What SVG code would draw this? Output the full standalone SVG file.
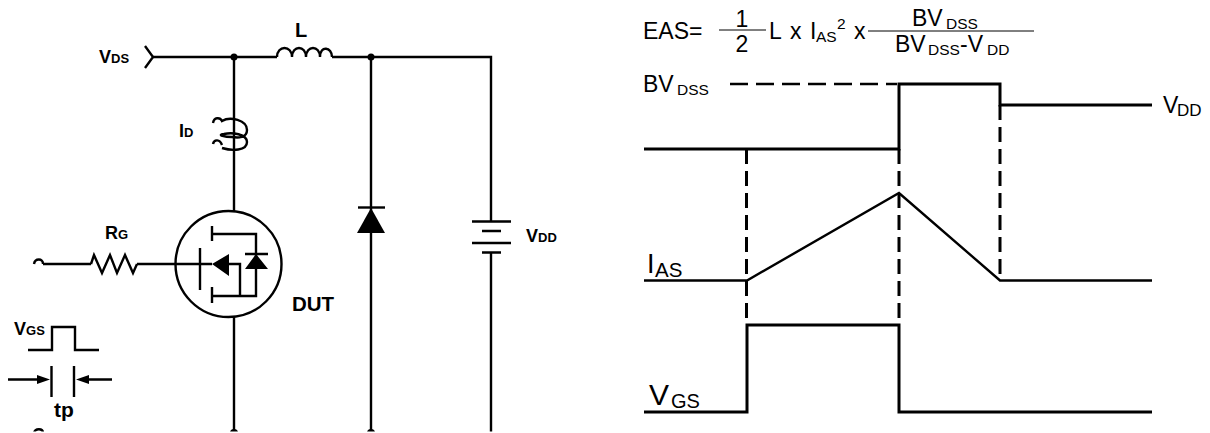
<svg xmlns="http://www.w3.org/2000/svg" width="1210" height="433" viewBox="0 0 1210 433">
<style>
text{font-family:"Liberation Sans",Arial,sans-serif;fill:#000}
.b{font-weight:bold;font-size:18px}
.bs{font-weight:bold;font-size:13px}
.t{font-size:23px}
.s{font-size:15.500px}
.w{fill:none;stroke:#000;stroke-width:2.400}
.w3{fill:none;stroke:#000;stroke-width:3}
.f{fill:#000;stroke:none}
.d{fill:none;stroke:#000;stroke-width:3;stroke-dasharray:15 7}
.dh{fill:none;stroke:#000;stroke-width:2.500;stroke-dasharray:18 8}
</style>
<rect width="1210" height="433" fill="#fff"/>
<g id="connectors">
<path class="w" d="M153 57H277M332 57H491V222M491 253V433M234 57V212M234 317V433M371 57V433M137 264H212M43 264H91"/>
</g>
<g id="vds"><path class="w" d="M145 46L153 57L145 68"/><text class="b" x="99" y="63">V<tspan class="bs">DS</tspan></text></g>
<g id="inductor-l"><path class="w" d="M277 57C277 45 292 45 292 57C292 45 306 45 306 57C306 45 320 45 320 57C320 45 332 47 332 57"/><text x="295" y="37" style="font-weight:bold;font-size:20px">L</text></g>
<g id="probe-id"><path class="w" d="M213 123C214 117 220 117 222 121C230 116 247 120 247 130C247 138 238 138 232 137C225 137 216 135 224 134C232 132 247 134 247 142C247 151 232 151 222 148M213 144C214 139 220 139 222 145"/><text class="b" x="179" y="137">I<tspan class="bs">D</tspan></text></g>
<g id="junctions"><circle class="f" cx="234" cy="57" r="3.500"/><circle class="f" cx="371" cy="57" r="3.500"/><circle class="f" cx="234" cy="433" r="4"/><circle class="f" cx="371" cy="433" r="4"/></g>
<g id="rg"><path class="w" d="M34 264C35 258 43 258 43 264"/><path class="w" d="M91 264L94 255L102 273L110 255L117 273L125 255L133 273L137 264"/><text class="b" x="105" y="239">R<tspan class="bs">G</tspan></text></g>
<g id="dut">
<circle class="w" cx="228.500" cy="264" r="53"/>
<path class="w" d="M200 248V290M212 226V241M212 287V303M213 234H256V296H213M229 264H240V296M245 254H268"/>
<path class="f" d="M212 264L229 254V276ZM256 254L268 269H245Z"/>
<text x="292" y="311" style="font-weight:bold;font-size:20.500px">DUT</text>
</g>
<g id="diode"><path class="w" d="M358 207.500H385"/><path class="f" d="M371 208L385 233H357Z"/></g>
<g id="battery"><path class="w" d="M472 221.500H511M482 231H501M472 243H511M482 252.500H501"/><text class="b" x="526" y="242">V<tspan class="bs">DD</tspan></text></g>
<g id="pulse"><path class="w" d="M28 350H52V327H75V350H99"/><text class="b" x="14" y="335">V<tspan class="bs">GS</tspan></text></g>
<g id="tp"><path class="w" d="M51.500 366V397M74 366V397M8 379.500H40M112 379.500H84"/><path class="f" d="M50 379.500L37 375V384ZM76 379.500L89 375V384Z"/><text x="54" y="417" style="font-weight:bold;font-size:21px">tp</text></g>
<path class="w" d="M34 433C35 428 43 428 43 433"/>
<rect x="0" y="431.500" width="1210" height="2" fill="#fff"/>
<g id="equation">
<text class="t" x="643" y="38.500">EAS=</text>
<path d="M719 30H766M868 31H1034" fill="none" stroke="#000" stroke-width="1"/>
<text class="t" x="742" y="26.500" text-anchor="middle">1</text>
<text class="t" x="742" y="51.500" text-anchor="middle">2</text>
<text class="t" x="769" y="38.500">L</text><text class="t" x="790" y="38.500">x</text><text class="t" x="810" y="38.500">I</text><text class="s" x="816" y="41.500">AS</text><text class="s" x="837" y="29">2</text><text class="t" x="854" y="38.500">x</text>
<text class="t" x="912" y="26">BV</text><text class="s" x="946" y="29">DSS</text>
<text class="t" x="895" y="52">BV</text><text class="s" x="928" y="55">DSS</text><text class="t" x="960" y="52">-V</text><text class="s" x="987" y="55">DD</text>
</g>
<g id="wave-vds">
<text class="t" x="643" y="92">BV</text><text class="s" x="677" y="94.500">DSS</text>
<path class="dh" d="M730 84H897"/>
<path class="w3" d="M644 149H899V84H1000V105H1152"/>
<text class="t" x="1163" y="113">V</text><text x="1177" y="116" style="font-size:17px">DD</text>
</g>
<g id="guides"><path class="d" d="M746.500 149V320M899 149V320M1000 105V280"/></g>
<g id="wave-ias">
<path class="w" d="M644 280.500H747L899 193L1000 280.500H1152"/>
<text x="647" y="273" style="font-size:27px">I</text><text x="655" y="277" style="font-size:20.500px">AS</text>
</g>
<g id="wave-vgs">
<path class="w3" d="M644 412H747V325H899V412H1152"/>
<text x="649" y="405" style="font-size:30px">V</text><text x="671" y="408" style="font-size:20px">GS</text>
</g>
</svg>
